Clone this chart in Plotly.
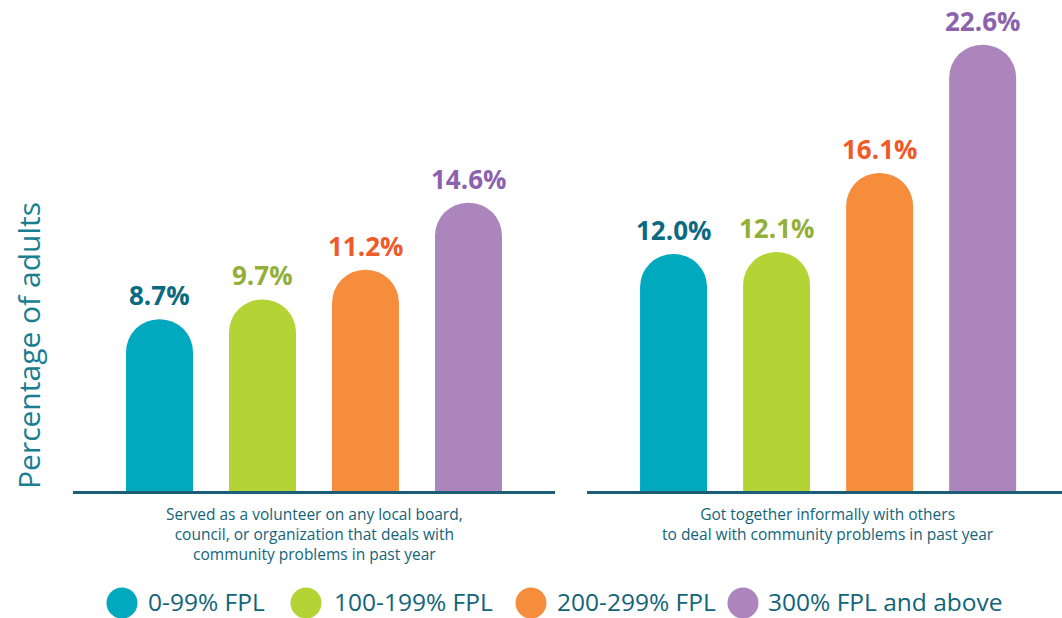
import plotly.graph_objects as go

groups = ["0-99% FPL", "100-199% FPL", "200-299% FPL", "300% FPL and above"]
volunteer = [8.7, 9.7, 11.2, 14.6]
informal = [12.0, 12.1, 16.1, 22.6]
categories = [
    "Served as a volunteer on any local board,<br>council, or organization that deals with<br>community problems in past year",
    "Got together informally with others<br>to deal with community problems in past year",
]
bar_colors = ["#00A9BE", "#B4D334", "#F58D3D", "#AB85BB"]
label_colors = ["#0B6A80", "#93AF3A", "#EF5A29", "#8C62AD"]

FONT = "Open Sans"
TEXT_DARK = "#12647A"
W, H = 1062, 618
BASE = 491                    # baseline in pixels
PH = BASE
B = H - PH

def px(x):
    return x / W

def py(y):
    return (BASE - y) / PH

fig = go.Figure()
for xa, ya, vals in [("x", "y", volunteer), ("x2", "y2", informal)]:
    fig.add_trace(go.Bar(
        x=list(range(len(groups))), y=vals, xaxis=xa, yaxis=ya,
        width=0.65,
        marker=dict(color=bar_colors, cornerradius="50%", line=dict(width=0)),
        showlegend=False, hoverinfo="skip",
    ))
    for i, v in enumerate(vals):
        fig.add_annotation(
            x=i, y=v, xref=xa, yref=ya, text=f"<b>{v:.1f}%</b>",
            showarrow=False, yanchor="bottom", yshift=4,
            font=dict(family=FONT, size=26, color=label_colors[i]),
        )

# category labels
for xa, txt in [("x", categories[0]), ("x2", categories[1])]:
    fig.add_annotation(
        x=1.5, xref=xa, y=py(501), yref="paper", text=txt,
        showarrow=False, yanchor="top", align="center",
        font=dict(family=FONT, size=15.5, color=TEXT_DARK),
    )

# y-axis title
fig.add_annotation(
    x=px(28), xref="paper", y=py(346), yref="paper",
    xanchor="center", yanchor="middle",
    text="Percentage of adults", textangle=-90, showarrow=False,
    font=dict(family=FONT, size=30, color="#1A7E90"),
)

# legend (circles + labels)
legend_cx = [122, 306, 531, 743]
legend_tx = [146, 332, 555, 766]
for i, g in enumerate(groups):
    fig.add_shape(
        type="circle", xref="paper", yref="paper",
        xsizemode="pixel", ysizemode="pixel",
        xanchor=px(legend_cx[i]), yanchor=py(603),
        x0=-15.5, x1=15.5, y0=-15.5, y1=15.5,
        fillcolor=bar_colors[i], line=dict(width=0),
    )
    fig.add_annotation(
        x=px(legend_tx[i]), xref="paper", y=py(601.5), yref="paper",
        text=g, showarrow=False, xanchor="left", yanchor="middle",
        font=dict(family=FONT, size=24.5, color=TEXT_DARK),
    )

ymax = PH / 19.75
axis_common = dict(showgrid=False, zeroline=False, showticklabels=False, ticks="",
                   showline=True, linecolor="#1B5E76", linewidth=3)
fig.update_layout(
    width=W, height=H,
    margin=dict(l=0, r=0, t=0, b=B),
    paper_bgcolor="white", plot_bgcolor="white",
    xaxis=dict(domain=[px(73), px(555)], range=[-0.84, 3.84], anchor="y", **axis_common),
    xaxis2=dict(domain=[px(587), 1.0], range=[-0.84, 3.77], anchor="y2", **axis_common),
    yaxis=dict(range=[0, ymax], visible=False, domain=[0, 1]),
    yaxis2=dict(range=[0, ymax], visible=False, domain=[0, 1], anchor="x2"),
    bargap=0.35,
)

fig.write_html(
    "out.html",
    config={"displayModeBar": False},
    post_script="document.body.style.margin='0';document.body.style.overflow='hidden';",
)
